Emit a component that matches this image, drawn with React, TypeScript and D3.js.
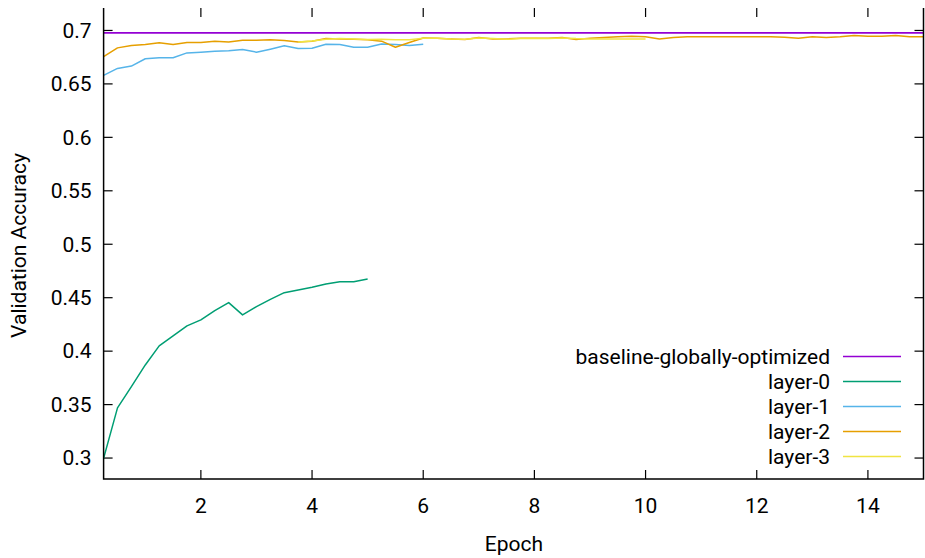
import React from "react";
import * as d3 from "d3";

const EPOCH_STEP = 0.25;
const X_DOMAIN: [number, number] = [0.25, 15];
const Y_DOMAIN: [number, number] = [0.2804, 0.721];
const X_TICKS = [2, 4, 6, 8, 10, 12, 14];
const Y_TICKS = [0.3, 0.35, 0.4, 0.45, 0.5, 0.55, 0.6, 0.65, 0.7];

const baselineValue = 0.6977;

const layer0 = [
  0.2997, 0.3469, 0.3668, 0.3871, 0.4049, 0.4142, 0.4236, 0.4292, 0.4379, 0.4454,
  0.4339, 0.4416, 0.4485, 0.4547, 0.4572, 0.4598, 0.4629, 0.465, 0.465, 0.4675,
];
const layer1 = [
  0.658, 0.6645, 0.6667, 0.6735, 0.6744, 0.6744, 0.679, 0.6797, 0.6806, 0.681,
  0.6822, 0.6797, 0.6825, 0.6856, 0.6831, 0.6834, 0.6871, 0.6868, 0.6843, 0.6843,
  0.6874, 0.6868, 0.6859, 0.6871,
];
const layer2 = [
  0.6756, 0.6837, 0.6859, 0.6868, 0.6884, 0.6868, 0.6887, 0.6887, 0.69, 0.6893,
  0.6909, 0.6909, 0.6912, 0.6905, 0.6893, 0.69, 0.6924, 0.6921, 0.6918, 0.6912,
  0.69, 0.6843, 0.6887, 0.693, 0.6927, 0.6921, 0.6915, 0.6933, 0.6921, 0.6921,
  0.6927, 0.6927, 0.6927, 0.6933, 0.6915, 0.6927, 0.6933, 0.694, 0.6946, 0.694,
  0.6921, 0.6933, 0.694, 0.694, 0.694, 0.694, 0.694, 0.694, 0.694, 0.6937,
  0.6927, 0.694, 0.6933, 0.694, 0.6952, 0.6946, 0.6946, 0.6952, 0.694, 0.694,
];
const layer3Start = 3.75;
const layer3 = [
  0.6893, 0.6902, 0.6918, 0.6924, 0.6921, 0.6915, 0.6918, 0.6912, 0.6912, 0.6927,
  0.6927, 0.6921, 0.6918, 0.693, 0.6924, 0.6918, 0.6924, 0.6927, 0.6924, 0.693,
  0.6924, 0.6921, 0.6921, 0.6921, 0.6921, 0.6921,
];

const seriesNames = ["baseline-globally-optimized", "layer-0", "layer-1", "layer-2", "layer-3"];
const seriesColors = ["#9400d3", "#009e73", "#56b4e9", "#e69f00", "#f0e442"];

const W = 925;
const H = 558;
const L = 103.6;
const R = 923.5;
const T = 8;
const B = 479;
const FONT = "Roboto, 'DejaVu Sans', sans-serif";
const FS = 21;

type P = [number, number];
const toPoints = (vals: number[], start: number): P[] =>
  vals.map((v, i) => [start + i * EPOCH_STEP, v]);

export default function App() {
  const x = d3.scaleLinear().domain(X_DOMAIN).range([L, R]);
  const y = d3.scaleLinear().domain(Y_DOMAIN).range([B, T]);
  const line = d3
    .line<P>()
    .x((d) => x(d[0]))
    .y((d) => y(d[1]));

  const series: P[][] = [
    [
      [X_DOMAIN[0], baselineValue],
      [X_DOMAIN[1], baselineValue],
    ],
    toPoints(layer0, 0.25),
    toPoints(layer1, 0.25),
    toPoints(layer2, 0.25),
    toPoints(layer3, layer3Start),
  ];
  const widths = [1.8, 1.5, 1.5, 1.5, 1.5];

  const tickLen = 9;
  const legendY0 = 356.5;
  const legendDy = 25;

  return (
    <svg
      width={W}
      height={H}
      style={{ position: "absolute", left: 0, top: 0, background: "#fff" }}
      fontFamily={FONT}
    >
      <defs>
        <clipPath id="plotclip">
          <rect x={L} y={T} width={R - L} height={B - T} />
        </clipPath>
      </defs>
      <rect x={0} y={0} width={W} height={H} fill="#fff" />

      {/* ticks */}
      {Y_TICKS.map((t) => (
        <g key={"y" + t}>
          <line x1={L} x2={L + tickLen} y1={y(t)} y2={y(t)} stroke="#000" strokeWidth={1.2} />
          <line x1={R} x2={R - tickLen} y1={y(t)} y2={y(t)} stroke="#000" strokeWidth={1.2} />
          <text
            x={L - 12}
            y={y(t)}
            dy="0.35em"
            textAnchor="end"
            fontSize={FS}
            fill="#000"
          >
            {d3.format("")(t)}
          </text>
        </g>
      ))}
      {X_TICKS.map((t) => (
        <g key={"x" + t}>
          <line x1={x(t)} x2={x(t)} y1={B} y2={B - tickLen} stroke="#000" strokeWidth={1.2} />
          <line x1={x(t)} x2={x(t)} y1={T} y2={T + tickLen} stroke="#000" strokeWidth={1.2} />
          <text x={x(t)} y={512.5} textAnchor="middle" fontSize={FS} fill="#000">
            {t}
          </text>
        </g>
      ))}

      {/* data lines */}
      <g clipPath="url(#plotclip)">
        {series.map((pts, i) => (
          <path
            key={seriesNames[i]}
            d={line(pts) || ""}
            fill="none"
            stroke={seriesColors[i]}
            strokeWidth={widths[i]}
            strokeLinejoin="round"
          />
        ))}
      </g>

      {/* border: left, bottom, right */}
      <path
        d={`M${L},${T}V${B}H${R}V${T}`}
        fill="none"
        stroke="#000"
        strokeWidth={1.5}
      />

      {/* legend */}
      {seriesNames.map((name, i) => (
        <g key={"leg" + name}>
          <text
            x={830}
            y={legendY0 + i * legendDy}
            dy="0.35em"
            textAnchor="end"
            fontSize={FS}
            fill="#000"
          >
            {name}
          </text>
          <line
            x1={843}
            x2={901}
            y1={legendY0 + i * legendDy}
            y2={legendY0 + i * legendDy}
            stroke={seriesColors[i]}
            strokeWidth={1.5}
          />
        </g>
      ))}

      {/* axis titles */}
      <text x={514} y={550.5} textAnchor="middle" fontSize={FS} fill="#000">
        Epoch
      </text>
      <text
        transform={`translate(26,${(T + B) / 2 + 2}) rotate(-90)`}
        textAnchor="middle"
        fontSize={FS}
        fill="#000"
      >
        Validation Accuracy
      </text>
    </svg>
  );
}
